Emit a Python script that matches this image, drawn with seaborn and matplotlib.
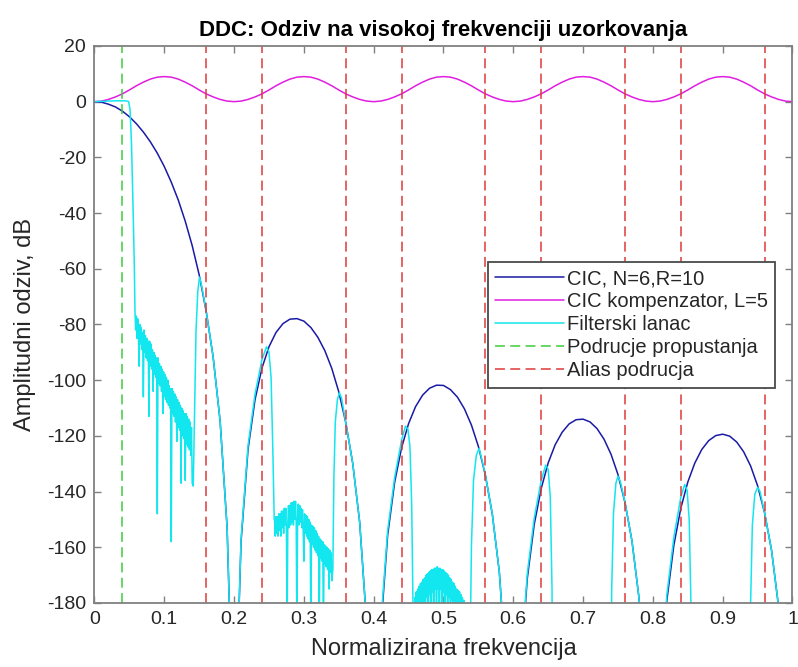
import numpy as np
import pandas as pd
import matplotlib
matplotlib.use("Agg")
import matplotlib.pyplot as plt
from matplotlib.lines import Line2D
import seaborn as sns

# ---- data -------------------------------------------------------------
# common frequency grid (normalised, 1 = Nyquist)
freq = [0.00, 0.01, 0.02, 0.03, 0.04, 0.05, 0.06, 0.07, 0.08, 0.09,
        0.10, 0.11, 0.12, 0.13, 0.14, 0.15, 0.16, 0.17, 0.18, 0.19,
        0.20, 0.21, 0.22, 0.23, 0.24, 0.25, 0.26, 0.27, 0.28, 0.29,
        0.30, 0.31, 0.32, 0.33, 0.34, 0.35, 0.36, 0.37, 0.38, 0.39,
        0.40, 0.41, 0.42, 0.43, 0.44, 0.45, 0.46, 0.47, 0.48, 0.49,
        0.50, 0.51, 0.52, 0.53, 0.54, 0.55, 0.56, 0.57, 0.58, 0.59,
        0.60, 0.61, 0.62, 0.63, 0.64, 0.65, 0.66, 0.67, 0.68, 0.69,
        0.70, 0.71, 0.72, 0.73, 0.74, 0.75, 0.76, 0.77, 0.78, 0.79,
        0.80, 0.81, 0.82, 0.83, 0.84, 0.85, 0.86, 0.87, 0.88, 0.89,
        0.90, 0.91, 0.92, 0.93, 0.94, 0.95, 0.96, 0.97, 0.98, 0.99,
        1.00]

# CIC decimator response, N=6, R=10 (dB); nulls lie below the axis
cic_db = [0.0, -0.2, -0.9, -1.9, -3.4, -5.4, -7.9, -10.9, -14.4, -18.5,
          -23.3, -28.9, -35.3, -42.9, -51.7, -62.2, -75.2, -91.7, -114.7, -152.9,
          -240.0, -157.9, -124.8, -107.0, -95.6, -88.0, -82.9, -79.7, -78.1, -77.9,
          -78.8, -81.1, -84.6, -89.4, -95.8, -104.2, -115.2, -129.9, -151.2, -187.8,
          -240.0, -190.1, -155.7, -136.7, -124.2, -115.6, -109.5, -105.4, -102.9, -101.8,
          -101.9, -103.4, -106.1, -110.3, -116.1, -123.8, -134.1, -148.2, -168.9, -205.0,
          -240.0, -206.2, -171.3, -151.8, -138.9, -129.7, -123.2, -118.7, -115.7, -114.2,
          -114.0, -115.0, -117.4, -121.2, -126.6, -133.9, -143.9, -157.7, -178.0, -213.8,
          -240.0, -214.3, -179.1, -159.3, -146.0, -136.6, -129.8, -124.9, -121.7, -119.9,
          -119.4, -120.1, -122.2, -125.7, -130.8, -137.9, -147.6, -161.1, -181.2, -216.7,
          -240.0]

# CIC compensator, L=5 (dB)
comp_db = [0.0, 0.2, 0.8, 1.7, 2.8, 4.2, 5.7, 7.0, 8.1, 8.8,
           9.0, 8.8, 8.1, 7.0, 5.7, 4.2, 2.8, 1.7, 0.8, 0.2,
           0.0, 0.2, 0.8, 1.7, 2.8, 4.2, 5.7, 7.0, 8.1, 8.8,
           9.0, 8.8, 8.1, 7.0, 5.7, 4.2, 2.8, 1.7, 0.8, 0.2,
           0.0, 0.2, 0.8, 1.7, 2.8, 4.2, 5.7, 7.0, 8.1, 8.8,
           9.0, 8.8, 8.1, 7.0, 5.7, 4.2, 2.8, 1.7, 0.8, 0.2,
           0.0, 0.2, 0.8, 1.7, 2.8, 4.2, 5.7, 7.0, 8.1, 8.8,
           9.0, 8.8, 8.1, 7.0, 5.7, 4.2, 2.8, 1.7, 0.8, 0.2,
           0.0, 0.2, 0.8, 1.7, 2.8, 4.2, 5.7, 7.0, 8.1, 8.8,
           9.0, 8.8, 8.1, 7.0, 5.7, 4.2, 2.8, 1.7, 0.8, 0.2,
           0.0]

# complete filter chain, piece by piece: (frequency, dB)
chain_passband = [(0.000, 0.0), (0.010, 0.1), (0.020, 0.2), (0.030, 0.3), (0.040, 0.3),
                  (0.045, 0.3), (0.049, 0.0), (0.051, -3.0), (0.053, -15.0),
                  (0.055, -35.0), (0.057, -58.0)]

chain_stop1 = [(0.058, -75), (0.059, -82), (0.060, -77), (0.061, -85), (0.062, -78),
               (0.063, -84), (0.064, -95), (0.065, -80), (0.066, -87), (0.067, -81),
               (0.068, -89), (0.069, -83), (0.070, -106), (0.071, -82), (0.072, -90),
               (0.073, -84), (0.074, -92), (0.075, -85), (0.076, -93), (0.077, -86),
               (0.078, -113), (0.079, -86), (0.080, -95), (0.081, -87), (0.082, -96),
               (0.083, -89), (0.084, -104), (0.085, -90), (0.086, -98), (0.087, -91),
               (0.088, -99), (0.089, -92), (0.090, -148), (0.091, -92), (0.092, -101),
               (0.093, -94), (0.094, -102), (0.095, -95), (0.096, -104), (0.097, -96),
               (0.098, -112), (0.099, -97), (0.100, -106), (0.101, -98), (0.102, -107),
               (0.103, -99), (0.104, -108), (0.105, -100), (0.106, -109), (0.107, -102),
               (0.108, -110), (0.109, -103), (0.110, -158), (0.111, -103), (0.112, -112),
               (0.113, -104), (0.114, -113), (0.115, -105), (0.116, -115), (0.117, -106),
               (0.118, -122), (0.119, -107), (0.120, -117), (0.121, -108), (0.122, -118),
               (0.123, -109), (0.124, -137), (0.125, -110), (0.126, -120), (0.127, -111),
               (0.128, -121), (0.129, -112), (0.130, -136), (0.131, -112), (0.132, -123),
               (0.133, -113), (0.134, -124), (0.135, -114), (0.136, -125), (0.137, -115),
               (0.138, -127), (0.139, -117), (0.140, -137)]

chain_image1 = [(0.1415, -138), (0.1435, -110), (0.1455, -82), (0.148, -68), (0.1505, -63),
                (0.153, -65.5), (0.156, -69.5), (0.160, -75.2), (0.170, -91.7),
                (0.180, -114.7), (0.190, -152.9), (0.200, -240), (0.210, -157),
                (0.220, -123.5), (0.230, -105), (0.240, -92.5), (0.2465, -88),
                (0.250, -90), (0.253, -99), (0.2555, -125), (0.2575, -150)]

chain_stop2 = [(0.258, -150), (0.259, -156), (0.260, -149), (0.261, -155), (0.262, -149),
               (0.263, -156), (0.264, -148), (0.265, -154), (0.266, -148), (0.267, -156),
               (0.268, -147), (0.269, -153), (0.270, -147), (0.271, -155), (0.272, -146),
               (0.273, -152), (0.274, -146), (0.275, -154), (0.276, -190), (0.277, -151),
               (0.278, -145), (0.279, -153), (0.280, -145), (0.281, -152), (0.282, -144),
               (0.283, -151), (0.284, -144), (0.285, -152), (0.286, -143.5), (0.287, -150),
               (0.288, -143.5), (0.289, -151), (0.290, -190), (0.291, -150), (0.292, -144.5),
               (0.293, -152), (0.294, -145), (0.295, -151), (0.296, -146), (0.297, -153),
               (0.298, -146.5), (0.299, -154), (0.300, -165), (0.301, -148), (0.302, -155),
               (0.303, -148.5), (0.304, -156), (0.305, -149), (0.306, -157), (0.307, -150),
               (0.308, -158), (0.309, -151), (0.310, -190), (0.311, -152), (0.312, -159),
               (0.313, -152.5), (0.314, -160), (0.315, -153), (0.316, -161), (0.317, -154),
               (0.318, -162), (0.319, -155), (0.320, -163), (0.321, -156), (0.322, -190),
               (0.323, -157), (0.324, -164), (0.325, -157.5), (0.326, -165), (0.327, -158),
               (0.328, -190), (0.329, -159), (0.330, -166), (0.331, -159.5), (0.332, -167),
               (0.333, -160), (0.334, -168), (0.335, -160.5), (0.336, -175), (0.337, -161),
               (0.338, -169), (0.339, -162), (0.340, -172)]

chain_image2 = [(0.3415, -168), (0.343, -135), (0.345, -115), (0.348, -107), (0.351, -104.5),
                (0.354, -106.5), (0.360, -115.2), (0.370, -129.9), (0.380, -151.2),
                (0.390, -187.8), (0.400, -240), (0.410, -188), (0.420, -154), (0.430, -135),
                (0.440, -121.5), (0.4455, -116.5), (0.449, -117.5), (0.452, -124),
                (0.4545, -145), (0.4565, -185)]

chain_stop3 = [(0.458, -190), (0.459, -178), (0.460, -185), (0.461, -176), (0.462, -190),
               (0.463, -175), (0.464, -183), (0.465, -174), (0.466, -190), (0.467, -173),
               (0.468, -181), (0.469, -172.5), (0.470, -190), (0.471, -171.5), (0.472, -180),
               (0.473, -171), (0.474, -190), (0.475, -170), (0.476, -178), (0.477, -169.5),
               (0.478, -190), (0.479, -169), (0.480, -177), (0.481, -168.5), (0.482, -190),
               (0.483, -168), (0.484, -176), (0.485, -168), (0.486, -190), (0.487, -167.5),
               (0.488, -175), (0.489, -167.5), (0.490, -190), (0.491, -167), (0.492, -175),
               (0.493, -167.5), (0.494, -190), (0.495, -167.5), (0.496, -175), (0.497, -168),
               (0.498, -190), (0.499, -168), (0.500, -176), (0.501, -168.5), (0.502, -190),
               (0.503, -169), (0.504, -177), (0.505, -169.5), (0.506, -190), (0.507, -170),
               (0.508, -178), (0.509, -171), (0.510, -190), (0.511, -171.5), (0.512, -179),
               (0.513, -172.5), (0.514, -190), (0.515, -173), (0.516, -180), (0.517, -174),
               (0.518, -190), (0.519, -175), (0.520, -182), (0.521, -175.5), (0.522, -190),
               (0.523, -176), (0.524, -184), (0.525, -177), (0.526, -190), (0.527, -178),
               (0.528, -190), (0.529, -179), (0.530, -190), (0.532, -181), (0.535, -190)]

chain_image3 = [(0.538, -200), (0.540, -160), (0.543, -136), (0.547, -127), (0.551, -124.5),
                (0.555, -128.5), (0.560, -134.1), (0.570, -148.2), (0.580, -168.9),
                (0.590, -205), (0.600, -240), (0.610, -205), (0.620, -169.5), (0.630, -149.5),
                (0.640, -136), (0.6465, -130.5), (0.650, -132), (0.653, -142),
                (0.6555, -175), (0.657, -240)]

chain_image4 = [(0.739, -240), (0.741, -175), (0.7435, -148), (0.747, -137), (0.750, -134.5),
                (0.7535, -136.5), (0.760, -143.9), (0.770, -157.7), (0.780, -178),
                (0.790, -213.8), (0.800, -240), (0.810, -213), (0.820, -177), (0.830, -156.5),
                (0.840, -142), (0.8455, -137.5), (0.849, -139.5), (0.852, -150),
                (0.8545, -180), (0.856, -240)]

chain_image5 = [(0.938, -240), (0.940, -180), (0.9425, -152), (0.946, -141), (0.950, -138.5),
                (0.9535, -140), (0.960, -147.6), (0.970, -161.1), (0.980, -181.2),
                (0.990, -216.7), (1.000, -240)]

# band markers
passband_edge = [0.04]
alias_edges = [0.16, 0.24, 0.36, 0.44, 0.56, 0.64, 0.76, 0.84, 0.96]

x_ticks = [0, 0.1, 0.2, 0.3, 0.4, 0.5, 0.6, 0.7, 0.8, 0.9, 1]
x_tick_labels = ["0", "0.1", "0.2", "0.3", "0.4", "0.5", "0.6", "0.7", "0.8", "0.9", "1"]
y_ticks = [-180, -160, -140, -120, -100, -80, -60, -40, -20, 0, 20]

labels = ["CIC, N=6,R=10", "CIC kompenzator, L=5", "Filterski lanac",
          "Podrucje propustanja", "Alias podrucja"]

# ---- style ------------------------------------------------------------
sns.set_theme(style="ticks")
plt.rcParams["font.family"] = ["Liberation Sans", "DejaVu Sans"]
plt.rcParams["axes.unicode_minus"] = False

C_CIC = "#1a1aa6"
C_COMP = "#e01ee0"
C_CHAIN = "#12e6ee"
C_PASS = "#3ccc3c"
C_ALIAS = "#dc3a3a"
AX_GRAY = "#808080"
TXT = "#262626"

fig = plt.figure(figsize=(7.98, 6.67), dpi=100)
ax = fig.add_axes([0.1184, 0.0960, 0.8747, 0.8351])

resp = pd.DataFrame({"f": freq, "cic": cic_db, "comp": comp_db})
chain_points = (chain_passband + chain_stop1 + chain_image1 + chain_stop2 + chain_image2
                + chain_stop3 + chain_image3 + chain_image4 + chain_image5)
chain = pd.DataFrame(chain_points, columns=["f", "db"])

lw = 1.1
sns.lineplot(data=resp, x="f", y="cic", ax=ax, color=C_CIC, lw=lw,
             estimator=None, sort=False)
sns.lineplot(data=resp, x="f", y="comp", ax=ax, color=C_COMP, lw=lw,
             estimator=None, sort=False)
sns.lineplot(data=chain, x="f", y="db", ax=ax, color=C_CHAIN, lw=lw,
             estimator=None, sort=False)

dash = (6.5, 3.5)
for xv in passband_edge:
    ax.axvline(xv, color=C_PASS, lw=lw, dashes=dash)
for xv in alias_edges:
    ax.axvline(xv, color=C_ALIAS, lw=lw, dashes=dash)

ax.set_xlim(0, 1)
ax.set_ylim(-180, 20)
ax.set_xticks(x_ticks)
ax.set_xticklabels(x_tick_labels)
ax.set_yticks(y_ticks)

ax.tick_params(axis="both", which="both", direction="in", length=5,
               width=1.0, color=AX_GRAY, labelsize=14, labelcolor=TXT,
               top=True, right=True, pad=6)
for s in ax.spines.values():
    s.set_visible(True)
    s.set_color(AX_GRAY)
    s.set_linewidth(1.3)

ax.set_xlabel("Normalizirana frekvencija", fontsize=17, color=TXT, labelpad=7)
ax.set_ylabel("Amplitudni odziv, dB", fontsize=17, color=TXT, labelpad=8)
ax.set_title("DDC: Odziv na visokoj frekvenciji uzorkovanja", fontsize=16,
             fontweight="bold", color="black", pad=7)

handles = [Line2D([], [], color=C_CIC, lw=lw),
           Line2D([], [], color=C_COMP, lw=lw),
           Line2D([], [], color=C_CHAIN, lw=lw),
           Line2D([], [], color=C_PASS, lw=lw, dashes=dash),
           Line2D([], [], color=C_ALIAS, lw=lw, dashes=dash)]
leg = ax.legend(handles, labels, loc="upper right", bbox_to_anchor=(0.975, 0.612),
                borderaxespad=0, fontsize=14.5, frameon=True, fancybox=False,
                handlelength=3.4, handletextpad=0.15, labelspacing=0.2,
                borderpad=0.36, framealpha=1)
leg.get_frame().set_edgecolor("#4a4a4a")
leg.get_frame().set_linewidth(1.3)
for t in leg.get_texts():
    t.set_color(TXT)

fig.savefig("out.png", dpi=100, facecolor="white")
